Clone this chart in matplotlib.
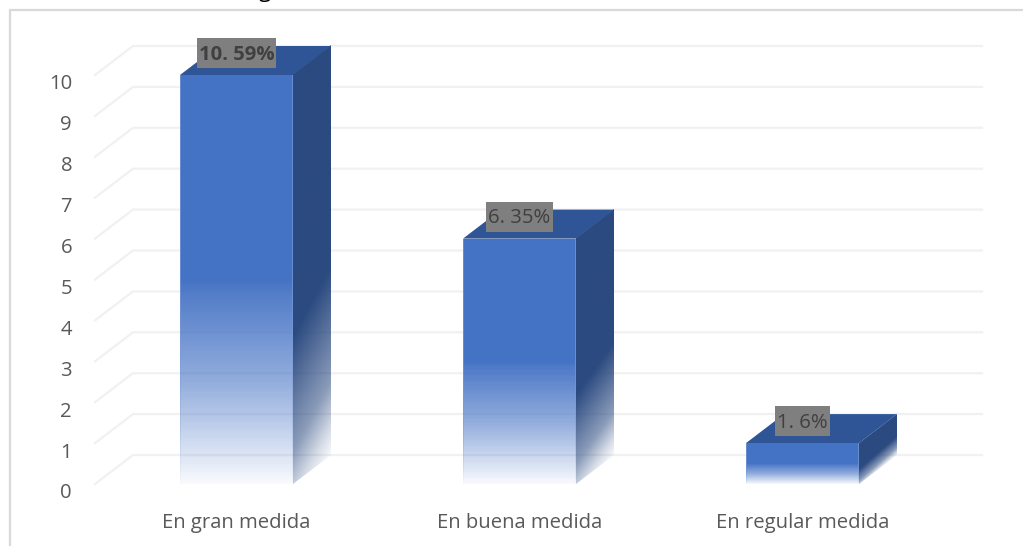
import numpy as np
import matplotlib
matplotlib.use('Agg')
import matplotlib.pyplot as plt
from matplotlib.colors import to_rgb
from matplotlib.lines import Line2D
from matplotlib.patches import Polygon, Rectangle
from matplotlib.transforms import Affine2D, IdentityTransform, ScaledTranslation

categories = ['En gran medida', 'En buena medida', 'En regular medida']
values = [10, 6, 1]
labels = ['10. 59%', '6. 35%', '1. 6%']
label_bold = [True, False, False]
y_ticks = list(range(11))

W, H = 1023, 546
FRONT = '#4472c4'
EDGE = '#7a9ad6'
SIDE = '#2b4a80'
TOP = '#2f5597'
GRID = '#f1f1f1'
BAR_W = 113 / 283
DX = 38 / 283          # profundidad en unidades de categoria
DY = 29 / 40.9         # profundidad en unidades de valor

plt.rcParams['font.family'] = ['Open Sans', 'DejaVu Sans']

fig = plt.figure(figsize=(W / 100, H / 100), dpi=100, facecolor='white')
ax = fig.add_axes([95 / W, (H - 484) / H, (944 - 95) / W, (484 - 75) / H])
ax.patch.set_visible(False)
for s in ax.spines.values():
    s.set_visible(False)


def rgba_rows(color, alpha):
    out = np.ones(alpha.shape + (4,))
    out[..., :3] = np.array(to_rgb(color))
    out[..., 3] = alpha
    return out


def front_alpha(f):
    return np.interp(f, [0, 0.25, 0.47, 0.5, 1], [0.03, 0.58, 0.93, 1, 1])


def side_alpha(f):
    return np.interp(f, [0, 0.07, 0.18, 0.46, 1], [0.03, 0.2, 0.55, 1, 1])


def draw_bar(i, v):
    x0 = i - BAR_W / 2
    x1 = i + BAR_W / 2

    # cara lateral: imagen con gradiente inclinada sobre el paralelogramo
    uc = (np.arange(40) + 0.5) / 40
    fc = (np.arange(200) + 0.5) / 200
    uu, ff = np.meshgrid(uc, fc)
    skew = Affine2D.from_values(DX, DY, 0, v, x1, 0) + ax.transData
    ax.imshow(rgba_rows(SIDE, side_alpha(ff + 0.1 * (1 - uu))), extent=(0, 1, 0, 1),
              origin='lower', aspect='auto', interpolation='bilinear',
              transform=skew, zorder=3, clip_on=False)

    # cara superior
    ax.add_patch(Polygon([(x0, v), (x1, v), (x1 + DX, v + DY), (x0 + DX, v + DY)],
                         closed=True, fc=TOP, ec='none', zorder=4, clip_on=False))

    # cara frontal
    f2 = np.linspace(0, 1, 201)
    fc2 = ((f2[:-1] + f2[1:]) / 2).reshape(-1, 1)
    ax.pcolormesh([x0, x1], f2 * v, rgba_rows(FRONT, front_alpha(fc2)),
                  shading='flat', zorder=5, clip_on=False)

    # borde claro de la cara frontal
    e = 0.0025
    for xe in (x0 + e, x1 - e):
        ax.pcolormesh([xe - e, xe + e], f2 * v, rgba_rows(EDGE, 0.7 * front_alpha(fc2)),
                      shading='flat', zorder=6, clip_on=False)


# rejilla: pared del fondo y pared lateral
for t in y_ticks:
    ax.plot([-0.5, -0.5 + DX, 2.5 + DX], [t, t + DY, t + DY], color=GRID, lw=1.6,
            solid_joinstyle='miter', zorder=1, clip_on=False)

for i, v in enumerate(values):
    draw_bar(i, v)

ax.set_xlim(-0.5, 2.5)
ax.set_ylim(0, 10)

ax.set_xticks(range(len(categories)))
ax.set_xticklabels(categories)
ax.set_yticks(y_ticks)
ax.tick_params(axis='both', length=0, labelsize=14.6, labelcolor='#595959')
ax.tick_params(axis='x', pad=21)
ax.tick_params(axis='y', pad=16.5)
shift = ScaledTranslation(0, -7 / 100, fig.dpi_scale_trans)
for lab in ax.get_yticklabels():
    lab.set_transform(lab.get_transform() + shift)

# etiquetas con caja gris de alto fijo
renderer = fig.canvas.get_renderer()
for i, v in enumerate(values):
    txt = ax.text(i, v + 0.5, labels[i], ha='center', va='center', fontsize=14.6,
                  color='#404040', fontweight='bold' if label_bold[i] else 'normal', zorder=8)
    ext = txt.get_window_extent(renderer)
    cx, cy = ax.transData.transform((i, v + 0.54))
    ax.add_patch(Rectangle((cx - ext.width / 2 - 2, cy - 15), ext.width + 4, 30,
                           fc='#7f7f7f', ec='none', zorder=7, clip_on=False,
                           transform=IdentityTransform()))

# marco del grafico, cortado por la imagen
fig.add_artist(Line2D([9.5 / W, 9.5 / W, 1], [0, (H - 9.5) / H, (H - 9.5) / H],
                      color='#d9d9d9', lw=1.6, solid_joinstyle='miter'))

# resto del titulo, cortado arriba
fig.text(265 / W, 1 + 2.5 / H, 'g', fontsize=16, color='black', ha='center', va='baseline')

fig.savefig('out.png', dpi=100)
